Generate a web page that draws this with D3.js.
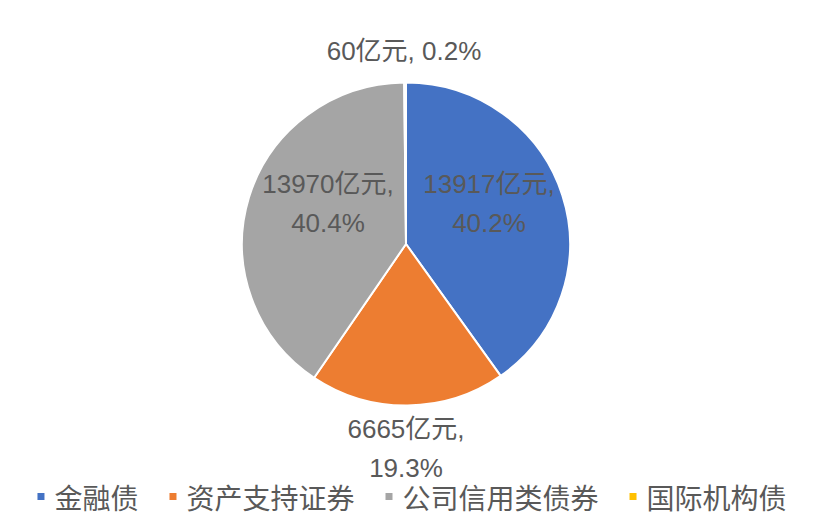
<!DOCTYPE html>
<html>
<head>
<meta charset="utf-8">
<script src="https://cdn.jsdelivr.net/npm/d3@7"></script>
<style>
  html, body { margin: 0; padding: 0; background: #fff; }
  svg { display: block; }
  text { font-family: "Liberation Sans", Arial, "Noto Sans CJK SC", sans-serif; fill: #595959; }
</style>
</head>
<body>
<svg id="chart" width="821" height="530"></svg>
<script>
// data
const categories = ["金融债", "资产支持证券", "公司信用类债券", "国际机构债"];
const amounts = [13917, 6665, 13970, 60];        // 亿元
const shares = ["40.2%", "19.3%", "40.4%", "0.2%"];
const colors = ["#4472C4", "#ED7D31", "#A5A5A5", "#FFC000"];

// label placement relative to pie centre (Excel "best fit" spots)
const labelOffsets = [[83, -51], [0, 194], [-78, -51], [-2, -184]];
const labelLines = [
  d => [d.amount + "亿元,", d.share],
  d => [d.amount + "亿元,", d.share],
  d => [d.amount + "亿元,", d.share],
  d => [d.amount + "亿元, " + d.share],
];

const W = 821, H = 530;
const cx = 406, cy = 244, r = 164;

const rows = categories.map((c, i) => ({
  name: c, amount: amounts[i], share: shares[i], color: colors[i], i
}));

const svg = d3.select("#chart");

const pie = d3.pie().sort(null).value(d => d.amount);
const arc = d3.arc().innerRadius(0).outerRadius(r);

const g = svg.append("g")
  .attr("transform", `translate(${cx},${cy}) scale(1,0.985)`);

g.selectAll("path.slice")
  .data(pie(rows))
  .enter()
  .append("path")
  .attr("class", "slice")
  .attr("d", arc)
  .attr("fill", d => d.data.color)
  .attr("stroke", "#fff")
  .attr("stroke-width", 2)
  .attr("stroke-linejoin", "round");

// data labels
const lbl = svg.append("g").attr("transform", `translate(${cx},${cy})`);
rows.forEach((d, i) => {
  const [dx, dy] = labelOffsets[i];
  const lines = labelLines[i](d);
  const t = lbl.append("text")
    .attr("text-anchor", "middle")
    .attr("font-size", 26);
  lines.forEach((s, k) => {
    t.append("tspan")
      .attr("x", dx)
      .attr("y", dy + k * 39)
      .text(s);
  });
});

// legend
const legend = svg.append("g");
const legendY = 497;
const items = legend.selectAll("g.item")
  .data(rows)
  .enter()
  .append("g")
  .attr("class", "item");

items.append("rect")
  .attr("width", 7)
  .attr("height", 7)
  .attr("y", legendY - 4)
  .attr("fill", d => d.color);

items.append("text")
  .attr("x", 17)
  .attr("y", legendY)
  .attr("dominant-baseline", "central")
  .attr("font-size", 28)
  .style("font-family", "'Noto Sans CJK SC', sans-serif")
  .text(d => d.name);

let widths = [];
items.each(function () {
  widths.push(17 + d3.select(this).select("text").node().getComputedTextLength());
});
const gap = 31;
const total = d3.sum(widths) + gap * (widths.length - 1);
let x = 412 - total / 2;
items.attr("transform", (d, i) => {
  const tx = x;
  x += widths[i] + gap;
  return `translate(${tx},0)`;
});
</script>
</body>
</html>
